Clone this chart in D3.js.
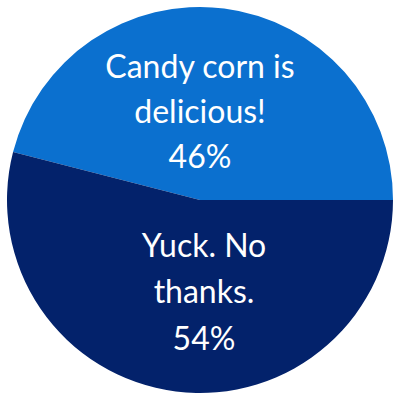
<!DOCTYPE html>
<html>
<head>
<meta charset="utf-8">
<script src="https://d3js.org/d3.v7.min.js"></script>
<style>
  body { margin: 0; background: #fff; }
  svg { display: block; }
  text.label { font-family: Lato, "Open Sans", sans-serif; font-size: 32px; fill: #fff; }
</style>
</head>
<body>
<svg width="400" height="400"></svg>
<script>
const categories = ['Candy corn is delicious!', 'Yuck. No thanks.'];
const values = [46, 54];
const labelLines = [['Candy corn is', 'delicious!', '46%'], ['Yuck. No', 'thanks.', '54%']];
const colors = ['#0b70cf', '#03226b'];

const svg = d3.select('svg');
const cx = 200, cy = 200, radius = 193;

const g = svg.append('g').attr('transform', `translate(${cx}, ${cy})`);

// light slice starts after the dark one, ending at 3 o'clock
const start = Math.PI / 2 + 2 * Math.PI * values[1] / 100;
const pie = d3.pie()
  .value(d => d)
  .sort(null)
  .startAngle(start)
  .endAngle(start + 2 * Math.PI);

const arc = d3.arc().innerRadius(0).outerRadius(radius);

g.selectAll('path')
  .data(pie(values))
  .enter()
  .append('path')
  .attr('d', arc)
  .attr('fill', (d, i) => colors[i]);

// labels
const lineY = [[-122, -77, -32], [57, 103, 150]];
const lineX = [0, 4];
labelLines.forEach((lines, i) => {
  const t = g.append('text')
    .attr('class', 'label')
    .attr('text-anchor', 'middle');
  lines.forEach((l, j) => {
    t.append('tspan')
      .attr('x', lineX[i])
      .attr('y', lineY[i][j])
      .text(l);
  });
});
</script>
</body>
</html>
